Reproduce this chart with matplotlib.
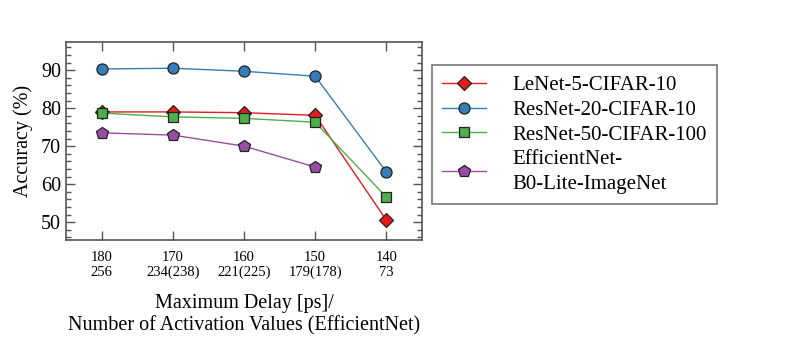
import matplotlib
matplotlib.use("Agg")
import matplotlib.pyplot as plt
from matplotlib.ticker import MultipleLocator

plt.rcParams['font.family'] = ['Liberation Serif', 'DejaVu Serif']
plt.rcParams['mathtext.fontset'] = 'stix'

delays = ["180", "170", "160", "150", "140"]
activations = ["256", "234(238)", "221(225)", "179(178)", "73"]
tick_labels = [f"{d}\n{a}" for d, a in zip(delays, activations)]

lenet = [79.0, 79.0, 78.8, 78.1, 50.5]
resnet20 = [90.3, 90.5, 89.7, 88.4, 63.2]
resnet50 = [78.7, 77.7, 77.3, 76.3, 56.6]
efficientnet = [73.5, 72.9, 70.0, 64.5]

series = [
    ("LeNet-5-CIFAR-10", lenet, "#e41a1c", "D", 7.5),
    ("ResNet-20-CIFAR-10", resnet20, "#377eb8", "o", 8),
    ("ResNet-50-CIFAR-100", resnet50, "#4daf4a", "s", 6.5),
    ("EfficientNet-\nB0-Lite-ImageNet", efficientnet, "#984ea3", "p", 9),
]

fig = plt.figure(figsize=(7.89, 3.51), dpi=100)
ax = fig.add_axes([66/789, 1-240/351, (422-66)/789, (240-42)/351])

handles = []
for label, vals, color, marker, ms in series:
    x = list(range(len(vals)))
    h, = ax.plot(x, vals, color=color, lw=1.0, marker=marker, markersize=ms,
                 markerfacecolor=color, markeredgecolor="#222222", markeredgewidth=0.9,
                 label=label)
    handles.append(h)

ax.set_xlim(-0.5, 4.5)
ax.set_ylim(45.3, 97.4)
ax.set_xticks(range(len(tick_labels)))
ax.set_xticklabels(tick_labels, fontsize=10.5, linespacing=1.15)
ax.yaxis.set_major_locator(MultipleLocator(10))
ax.yaxis.set_minor_locator(MultipleLocator(2))
ax.tick_params(axis='y', labelsize=14.5)
ax.tick_params(which='both', direction='in', top=True, right=True, color="#555555", width=1.0)
ax.tick_params(which='major', length=6.5)
ax.tick_params(which='minor', length=3.5)
ax.tick_params(axis='x', which='minor', top=False, bottom=False)
ax.tick_params(axis='x', pad=8)
for s in ax.spines.values():
    s.set_color("#555555")
    s.set_linewidth(1.2)

ax.set_ylabel("Accuracy (%)", fontsize=14.5, labelpad=6)
ax.set_xlabel("Maximum Delay [ps]/\nNumber of Activation Values (EfficientNet)",
              fontsize=14.5, linespacing=1.2, labelpad=11)

leg = fig.legend(handles=handles, loc='upper left', bbox_to_anchor=(432/789, 1-65/351),
                 bbox_transform=fig.transFigure, fontsize=15, frameon=True, fancybox=False,
                 handlelength=2.1, handletextpad=1.25, labelspacing=0.25,
                 borderpad=0.5, borderaxespad=0)
for t in leg.get_texts():
    t.set_linespacing(1.42)
leg.get_frame().set_edgecolor("#555555")
leg.get_frame().set_linewidth(1.2)

fig.savefig("out.png", dpi=100)
